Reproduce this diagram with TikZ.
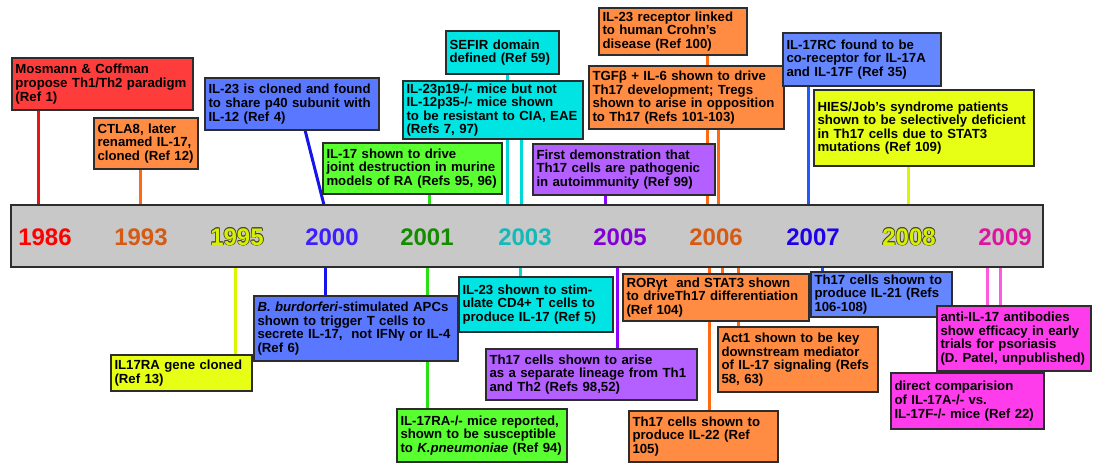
\documentclass[tikz,border=0pt]{standalone}
\usepackage{fontspec}
\setmainfont{Liberation Sans}
\pgfdeclarelayer{background}
\pgfsetlayers{background,main}
\definecolor{edge}{RGB}{45,45,45}
\definecolor{barfill}{RGB}{200,200,200}
\definecolor{redfill}{RGB}{255,60,60}
\definecolor{redline}{RGB}{235,20,20}
\definecolor{orangefill}{RGB}{255,140,66}
\definecolor{orangeline}{RGB}{255,105,20}
\definecolor{bluefill}{RGB}{90,120,255}
\definecolor{blueline}{RGB}{20,20,235}
\definecolor{skyfill}{RGB}{100,135,255}
\definecolor{skyline}{RGB}{30,90,255}
\definecolor{greenfill}{RGB}{90,255,50}
\definecolor{greenline}{RGB}{40,225,20}
\definecolor{cyanfill}{RGB}{0,228,228}
\definecolor{cyanline}{RGB}{0,215,215}
\definecolor{purplefill}{RGB}{180,95,255}
\definecolor{purpleline}{RGB}{140,0,255}
\definecolor{yellowfill}{RGB}{230,255,20}
\definecolor{yellowline}{RGB}{220,245,0}
\definecolor{pinkfill}{RGB}{255,60,235}
\definecolor{pinkline}{RGB}{255,90,225}
\definecolor{yr1986}{RGB}{255,0,0}
\definecolor{yr1993}{RGB}{215,90,20}
\definecolor{yryellow}{RGB}{215,240,0}
\definecolor{yr2000}{RGB}{60,30,255}
\definecolor{yr2001}{RGB}{20,140,0}
\definecolor{yr2003}{RGB}{20,185,185}
\definecolor{yr2005}{RGB}{130,0,215}
\definecolor{yr2007}{RGB}{30,0,235}
\definecolor{yr2009}{RGB}{220,20,160}
\definecolor{rimgray}{RGB}{70,70,40}
\newcommand\evfont{\fontsize{13.2}{13.6}\selectfont\bfseries}
\newcommand\yrfont{\fontsize{24}{24}\selectfont\bfseries}
\newcommand\rimcopy[3]{\makebox[0pt][l]{\hspace*{#1}\raisebox{#2}{\textcolor{rimgray}{#3}}}}
\newcommand\rimyear[2]{\rimcopy{-0.7pt}{0pt}{#2}\rimcopy{0.7pt}{0pt}{#2}\rimcopy{0pt}{0.7pt}{#2}\rimcopy{0pt}{-0.7pt}{#2}\rimcopy{-0.5pt}{-0.5pt}{#2}\rimcopy{0.5pt}{0.5pt}{#2}\rimcopy{0.5pt}{-0.5pt}{#2}\rimcopy{-0.5pt}{0.5pt}{#2}\textcolor{#1}{#2}}
\begin{document}
\begin{tikzpicture}
  [
    x=1pt,y=-1pt,
    event/.style={draw=edge,line width=1.5pt,anchor=north west,outer sep=0pt,inner xsep=3.5pt,inner ysep=2pt,align=left,font=\evfont},
    stem/.style={line width=3pt},
    year/.style={font=\yrfont},
  ]
  \useasboundingbox (0,0) rectangle (1095,464);
  \node (bar) at (11,205) [anchor=north west,outer sep=0pt,draw=edge,line width=1.5pt,fill=barfill,minimum width=1032pt,minimum height=62pt] {};
  \node (y1986) at (45,237) [year,text=yr1986] {1986};
  \node (y1993) at (141,237) [year,text=yr1993] {1993};
  \node (y1995) at (237,237) [year] {\rimyear{yryellow}{1995}};
  \node (y2000) at (332,237) [year,text=yr2000] {2000};
  \node (y2001) at (427,237) [year,text=yr2001] {2001};
  \node (y2003) at (525,237) [year,text=yr2003] {2003};
  \node (y2005) at (620,237) [year,text=yr2005] {2005};
  \node (y2006) at (716,237) [year,text=yr1993] {2006};
  \node (y2007) at (813,237) [year,text=yr2007] {2007};
  \node (y2008) at (909,237) [year] {\rimyear{yryellow}{2008}};
  \node (y2009) at (1005,237) [year,text=yr2009] {2009};

  \node (mosmann) at (12,58) [event,fill=redfill,text width=174pt,minimum height=52pt] {Mosmann \& Coffman\\propose Th1/Th2 paradigm\\(Ref 1)};
  \node (ctla) at (94,118) [event,fill=orangefill,text width=97pt,minimum height=51pt] {CTLA8, later\\renamed IL-17,\\cloned (Ref 12)};
  \node (il23clone) at (205,78) [event,fill=bluefill,text width=167pt,minimum height=52pt] {IL-23 is cloned and found\\to share p40 subunit with\\IL-12 (Ref 4)};
  \node (jointdes) at (323,143) [event,fill=greenfill,text width=172pt,minimum height=51pt] {IL-17 shown to drive\\joint destruction in murine\\models of RA (Refs 95, 96)};
  \node (sefir) at (446,31) [event,fill=cyanfill,text width=106pt,minimum height=43pt] {SEFIR domain\\defined (Ref 59)};
  \node (p19) at (403,81) [event,fill=cyanfill,text width=173pt,minimum height=58pt] {IL-23p19-/- mice but not\\IL-12p35-/- mice shown\\to be resistant to CIA, EAE\\(Refs 7, 97)};
  \node (crohn) at (599,8) [event,fill=orangefill,text width=141pt,minimum height=47pt] {IL-23 receptor linked\\to human Crohn's\\disease (Ref 100)};
  \node (tgfb) at (589,66) [event,fill=orangefill,text width=188pt,minimum height=63pt] {TGFβ + IL-6 shown to drive\\Th17 development; Tregs\\shown to arise in opposition\\to Th17 (Refs 101-103)};
  \node (patho) at (533,144) [event,fill=purplefill,text width=175pt,minimum height=51pt] {First demonstration that\\Th17 cells are pathogenic\\in autoimmunity (Ref 99)};
  \node (il17rc) at (783,33) [event,fill=skyfill,text width=151pt,minimum height=53pt] {IL-17RC found to be\\co-receptor for IL-17A\\and IL-17F (Ref 35)};
  \node (hies) at (814,90) [event,fill=yellowfill,text width=213pt,minimum height=76pt] {HIES/Job's syndrome patients\\shown to be selectively deficient\\in Th17 cells due to STAT3\\mutations (Ref 109)};

  \node (ra) at (111,355) [event,fill=yellowfill,text width=134pt,minimum height=36pt] {IL17RA gene cloned\\(Ref 13)};
  \node (borr) at (254,296) [event,fill=bluefill,text width=197pt,minimum height=65pt] {\textit{B. burdorferi}-stimulated APCs\\shown to trigger T cells to\\secrete IL-17,\ \ not IFNγ or IL-4\\(Ref 6)};
  \node (kpn) at (397,409) [event,fill=greenfill,text width=163pt,minimum height=53pt] {IL-17RA-/- mice reported,\\shown to be susceptible\\to \textit{K.pneumoniae} (Ref 94)};
  \node (stim) at (459,277) [event,fill=cyanfill,text width=147pt,minimum height=55pt] {IL-23 shown to stim-\\ulate CD4+ T cells to\\produce IL-17 (Ref 5)};
  \node (lineage) at (486,349) [event,fill=purplefill,text width=204pt,minimum height=51pt] {Th17 cells shown to arise\\as a separate lineage from Th1\\and Th2 (Refs 98,52)};
  \node (ror) at (623,274) [event,fill=orangefill,text width=179pt,minimum height=47pt] {RORγt\ \ and STAT3 shown\\to driveTh17 differentiation\\(Ref 104)};
  \node (il22) at (629,411) [event,fill=orangefill,text width=142pt,minimum height=51pt] {Th17 cells shown to\\produce IL-22 (Ref\\105)};
  \node (act1) at (718,327) [event,fill=orangefill,text width=153pt,minimum height=65pt] {Act1 shown to be key\\downstream mediator\\of IL-17 signaling (Refs\\58, 63)};
  \node (il21) at (811,272) [event,fill=skyfill,text width=134pt,minimum height=45pt] {Th17 cells shown to\\produce IL-21 (Refs\\106-108)};
  \node (antib) at (937,306) [event,fill=pinkfill,text width=147pt,minimum height=65pt] {anti-IL-17 antibodies\\show efficacy in early\\trials for psoriasis\\(D. Patel, unpublished)};
  \node (direct) at (891,373) [event,fill=pinkfill,text width=146pt,minimum height=56pt] {direct comparision\\of IL-17A-/- vs.\\IL-17F-/- mice (Ref 22)};

  \coordinate (t1986) at (38,205);
  \coordinate (t1993) at (140,205);
  \coordinate (t2000) at (324,205);
  \coordinate (k2000) at (305,130);
  \coordinate (t2001) at (429,205);
  \coordinate (t2003a) at (507,205);
  \coordinate (t2003b) at (521,205);
  \coordinate (t2005) at (605,205);
  \coordinate (t2006a) at (707,205);
  \coordinate (t2006b) at (718,205);
  \coordinate (t2007) at (808,205);
  \coordinate (t2008) at (908,205);
  \coordinate (b1995) at (235,267);
  \coordinate (b2000) at (325,267);
  \coordinate (b2001) at (427,267);
  \coordinate (b2003) at (520,267);
  \coordinate (b2005) at (617,267);
  \coordinate (b2006a) at (709,267);
  \coordinate (b2006b) at (722,267);
  \coordinate (b2006c) at (738,267);
  \coordinate (b2007) at (822,267);
  \coordinate (b2009a) at (987,267);
  \coordinate (b2009b) at (1000,267);

  \begin{pgfonlayer}{background}
    \draw[stem,redline] (t1986) -- (t1986 |- mosmann.south);
    \draw[stem,orangeline] (t1993) -- (t1993 |- ctla.south);
    \draw[stem,blueline] (t2000) -- (k2000);
    \draw[stem,greenline] (t2001) -- (t2001 |- jointdes.south);
    \draw[stem,cyanline] (t2003a) -- (t2003a |- sefir.south);
    \draw[stem,cyanline] (t2003b) -- (t2003b |- p19.south);
    \draw[stem,purpleline] (t2005) -- (t2005 |- patho.south);
    \draw[stem,orangeline] (t2006a) -- (t2006a |- crohn.south);
    \draw[stem,orangeline] (t2006b) -- (t2006b |- tgfb.south);
    \draw[stem,skyline] (t2007) -- (t2007 |- il17rc.south);
    \draw[stem,yellowline] (t2008) -- (t2008 |- hies.south);
    \draw[stem,yellowline] (b1995) -- (b1995 |- ra.north);
    \draw[stem,blueline] (b2000) -- (b2000 |- borr.north);
    \draw[stem,greenline] (b2001) -- (b2001 |- kpn.north);
    \draw[stem,cyanline] (b2003) -- (b2003 |- stim.north);
    \draw[stem,purpleline] (b2005) -- (b2005 |- lineage.north);
    \draw[stem,orangeline] (b2006a) -- (b2006a |- il22.north);
    \draw[stem,orangeline] (b2006b) -- (b2006b |- ror.north);
    \draw[stem,orangeline] (b2006c) -- (b2006c |- act1.north);
    \draw[stem,skyline] (b2007) -- (b2007 |- il21.north);
    \draw[stem,pinkline] (b2009a) -- (b2009a |- direct.north);
    \draw[stem,pinkline] (b2009b) -- (b2009b |- antib.north);
  \end{pgfonlayer}
\end{tikzpicture}
\end{document}
